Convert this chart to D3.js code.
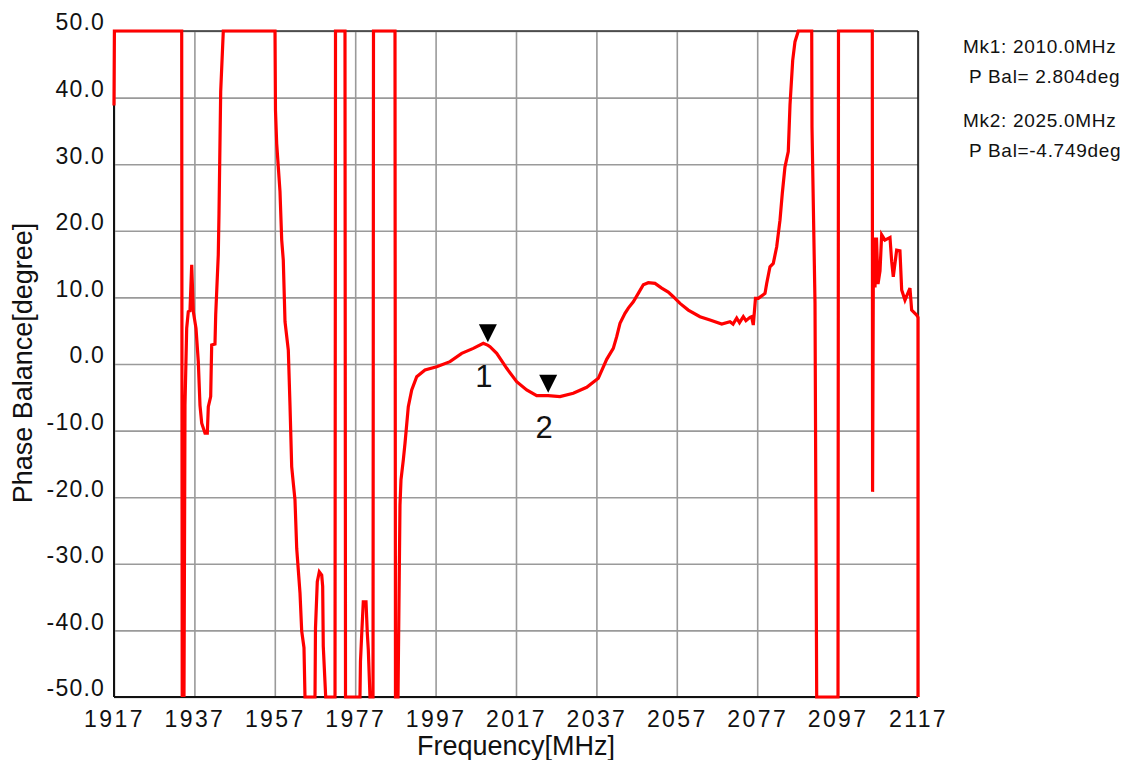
<!DOCTYPE html>
<html>
<head>
<meta charset="utf-8">
<script src="https://cdn.jsdelivr.net/npm/d3@7"></script>
<style>
  body { margin: 0; background: #fff; }
  svg { display: block; font-family: "Liberation Sans", Arial, sans-serif; }
</style>
</head>
<body>
<svg id="chart"></svg>
<script>
// trace (MHz, deg); values clipped at +/-50 like the analyzer screen
var freqs = [1917.0, 1917.1, 1933.84, 1933.97, 1934.16, 1934.41, 1934.66, 1935.08, 1935.48, 1935.9,
    1936.33, 1936.73, 1937.4, 1937.97, 1938.39, 1938.82, 1939.64, 1940.21, 1940.46, 1941.05,
    1941.3, 1942.12, 1942.3, 1942.94, 1943.12, 1943.54, 1944.19, 1957.05, 1957.17, 1957.47,
    1958.29, 1958.72, 1959.11, 1959.54, 1960.36, 1960.78, 1961.2, 1961.6, 1962.02, 1962.45,
    1963.27, 1963.69, 1964.26, 1964.51, 1967.0, 1967.12, 1967.57, 1968.07, 1968.67, 1968.91,
    1969.06, 1969.66, 1971.98, 1972.1, 1974.46, 1974.59, 1978.19, 1978.31, 1978.61, 1979.01,
    1979.69, 1980.01, 1980.26, 1980.68, 1981.43, 1981.55, 1986.9, 1987.02, 1987.65, 1988.14,
    1988.39, 1988.97, 1989.39, 1990.21, 1991.06, 1992.3, 1994.36, 1997.27, 2000.58, 2003.49,
    2006.38, 2008.87, 2010.04, 2010.53, 2012.2, 2014.69, 2017.17, 2019.66, 2022.15, 2025.0,
    2027.94, 2031.25, 2034.59, 2037.47, 2039.56, 2041.2, 2042.05, 2042.87, 2044.11, 2044.94,
    2046.18, 2047.42, 2048.67, 2049.91, 2051.58, 2053.24, 2054.88, 2056.13, 2057.8, 2059.86,
    2062.77, 2065.26, 2068.17, 2070.23, 2071.0, 2071.9, 2072.6, 2073.54, 2074.2, 2075.21, 2075.6,
    2076.03, 2076.57, 2077.27,
    2078.94, 2079.36, 2080.18, 2081.0, 2081.85, 2082.67, 2083.24, 2083.91, 2084.73, 2085.16,
    2085.83, 2086.4, 2087.22, 2090.56, 2090.63, 2091.38, 2091.8, 2097.1, 2097.22, 2105.63,
    2105.7, 2105.92, 2106.3, 2106.67, 2107.05, 2107.55, 2107.96, 2108.78, 2110.03, 2110.45,
    2110.85, 2111.69, 2112.51, 2112.94, 2113.76, 2115.0, 2115.42, 2116.67, 2117.0, 2117.0]
var phases = [38.8, 50, 50, -50, -20, -50, -6.2, 5.35, 7.85, 8.0,
    14.9, 7.85, 5.35, 0.35, -6.2, -8.9, -10.4, -10.4, -6.4, -4.9,
    2.85, 3.0, 7.4, 16.4, 22.6, 40.9, 50, 50, 38.1, 33.1,
    25.9, 18.6, 15.6, 6.35, 2.1, -6.2, -15.4, -17.9, -20.4, -27.7,
    -34.4, -40.1, -42.6, -50, -50, -39.7, -32.7, -31.2, -31.7, -33.4,
    -42.4, -50, -50, 50, 50, -50, -50, -44.7, -40.7, -35.7,
    -35.7, -40.4, -42.9, -50, -50, 50, 50, -50, -50, -21.2,
    -17.4, -14.4, -11.9, -6.4, -3.9, -1.9, -0.9, -0.4, 0.35, 1.6,
    2.35, 3.1, 2.8, 2.6, 1.6, -0.65, -2.65, -3.9, -4.75, -4.75,
    -4.9, -4.4, -3.5, -2.15, 0.7, 2.35, 4.1, 6.1, 7.6, 8.4,
    9.35, 10.6, 11.9, 12.2, 12.1, 11.4, 10.8, 10.1, 9.1, 8.1,
    7.1, 6.6, 6.0, 6.35, 6.0, 6.9, 6.2, 7.1, 6.5, 7.0, 7.1,
    5.85, 9.85, 9.85,
    10.6, 12.1, 14.6, 15.1, 17.6, 21.6, 25.6, 29.6, 31.9, 38.9,
    45.6, 48.4, 50, 50, 35.6, 9.1, -50, -50, 50, 50,
    -19.2, 19.0, 11.5, 19.0, 12.0, 14.0, 19.4, 18.6, 19.0, 15.4,
    13.1, 17.1, 17.0, 11.1, 9.6, 11.4, 8.1, 7.35, 7.0, -50]

var xTicks = [1917, 1937, 1957, 1977, 1997, 2017, 2037, 2057, 2077, 2097, 2117]
var yTicks = [50, 40, 30, 20, 10, 0, -10, -20, -30, -40, -50]

var markerFreqs = [2010, 2025]
var markerVals = [2.804, -4.749]
var markerNames = ['1', '2']
var readout = ['Mk1: 2010.0MHz', ' P Bal= 2.804deg', 'Mk2: 2025.0MHz', ' P Bal=-4.749deg']

var svgWidth = 1133, svgHeight = 760
var plotLeft = 114, plotRight = 918, plotTop = 31, plotBottom = 697

var svg = d3.select('#chart')
    .attr('width', svgWidth)
    .attr('height', svgHeight)

var xScale = d3.scaleLinear().domain([1917, 2117]).range([plotLeft, plotRight])
var yScale = d3.scaleLinear().domain([-50, 50]).range([plotBottom, plotTop])

// grid + tick labels
var xAxis = d3.axisBottom(xScale)
    .tickValues(xTicks)
    .tickSize(-(plotBottom - plotTop))
    .tickFormat(function (d) { return d })
var gx = svg.append('g')
    .attr('transform', 'translate(0,' + plotBottom + ')')
    .call(xAxis)
gx.select('.domain').remove()
gx.selectAll('line').attr('stroke', '#9a9a9a').attr('stroke-width', 1.6)
gx.selectAll('text')
    .attr('y', 30)
    .attr('dy', 0)
    .attr('fill', '#111')
    .style('font-size', '23px')
    .style('letter-spacing', '2.4px')
    .style('font-family', '"Liberation Sans", Arial, sans-serif')

var yAxis = d3.axisLeft(yScale)
    .tickValues(yTicks)
    .tickSize(-(plotRight - plotLeft))
    .tickFormat(function (d) { return d.toFixed(1) })
var gy = svg.append('g')
    .attr('transform', 'translate(' + plotLeft + ',0)')
    .call(yAxis)
gy.select('.domain').remove()
gy.selectAll('line').attr('stroke', '#9a9a9a').attr('stroke-width', 1.6)
gy.selectAll('text')
    .attr('x', -9)
    .attr('dy', '-0.05em')
    .attr('fill', '#111')
    .style('font-size', '23px')
    .style('letter-spacing', '1.2px')
    .style('font-family', '"Liberation Sans", Arial, sans-serif')

// frame
svg.append('line').attr('x1', plotLeft).attr('x2', plotRight).attr('y1', plotTop).attr('y2', plotTop)
    .attr('stroke', '#333').attr('stroke-width', 1.5)
svg.append('line').attr('x1', plotRight).attr('x2', plotRight).attr('y1', plotTop).attr('y2', plotBottom)
    .attr('stroke', '#111').attr('stroke-width', 1.5)
svg.append('line').attr('x1', plotLeft).attr('x2', plotLeft).attr('y1', plotTop).attr('y2', plotBottom)
    .attr('stroke', '#111').attr('stroke-width', 2)
svg.append('line').attr('x1', plotLeft).attr('x2', plotRight).attr('y1', plotBottom).attr('y2', plotBottom)
    .attr('stroke', '#111').attr('stroke-width', 2)

// trace
var line = d3.line()
    .x(function (d, i) { return xScale(freqs[i]) })
    .y(function (d) { return yScale(d) })
svg.append('path')
    .datum(phases)
    .attr('d', line)
    .attr('fill', 'none')
    .attr('stroke', '#ff0000')
    .attr('stroke-width', 3.2)
    .attr('stroke-linejoin', 'miter')

// markers
markerFreqs.forEach(function (f, i) {
    var mx = xScale(f), my = yScale(markerVals[i])
    svg.append('path')
        .attr('d', 'M' + (mx - 9) + ',' + (my - 21) + 'L' + (mx + 9) + ',' + (my - 21) + 'L' + mx + ',' + (my - 3) + 'Z')
        .attr('fill', '#000')
    svg.append('text')
        .attr('x', mx - 4)
        .attr('y', my + 42)
        .attr('text-anchor', 'middle')
        .attr('fill', '#111')
        .style('font-size', '31px')
        .text(markerNames[i])
})

// readout
var readY = [53, 83, 127, 157]
readout.forEach(function (t, i) {
    svg.append('text')
        .attr('x', 963)
        .attr('y', readY[i])
        .attr('fill', '#111')
        .style('font-size', '19px')
        .style('letter-spacing', '0.7px')
        .style('white-space', 'pre')
        .attr('xml:space', 'preserve')
        .text(t)
})

// axis titles
svg.append('text')
    .attr('x', (plotLeft + plotRight) / 2)
    .attr('y', 755)
    .attr('text-anchor', 'middle')
    .attr('fill', '#111')
    .style('font-size', '27px')
    .text('Frequency[MHz]')
svg.append('text')
    .attr('transform', 'translate(32,' + 363 + ') rotate(-90)')
    .attr('text-anchor', 'middle')
    .attr('fill', '#111')
    .style('font-size', '27px')
    .text('Phase Balance[degree]')
</script>
</body>
</html>
